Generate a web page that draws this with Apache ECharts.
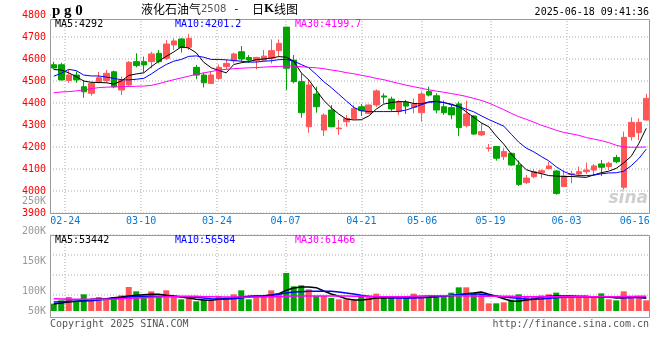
<!DOCTYPE html>
<html><head><meta charset="utf-8">
<script src="https://cdn.jsdelivr.net/npm/echarts@6/dist/echarts.min.js"></script>
<style>html,body{margin:0;padding:0;background:#fff}#c{width:660px;height:360px}</style>
</head><body><div id="c"></div>
<script>
const dates = ['02-20','02-21','02-24','02-25','02-26','02-27','02-28',
'03-03','03-04','03-05','03-06','03-07','03-10','03-11','03-12','03-13','03-14',
'03-17','03-18','03-19','03-20','03-21','03-24','03-25','03-26','03-27','03-28','03-31',
'04-01','04-02','04-03','04-07','04-08','04-09','04-10','04-11','04-14','04-15','04-16','04-17','04-18',
'04-21','04-22','04-23','04-24','04-25','04-28','04-29','04-30',
'05-06','05-07','05-08','05-09','05-12','05-13','05-14','05-15','05-16',
'05-19','05-20','05-21','05-22','05-23','05-26','05-27','05-28','05-29','05-30',
'06-03','06-04','06-05','06-06','06-09','06-10','06-11','06-12','06-13','06-16','06-17','06-18'];
const opens  = [4574,4574,4502,4527,4474,4444,4497,4502,4542,4459,4482,4588,4588,4588,4626,4603,4664,4691,4653,4562,
4527,4489,4512,4565,4592,4633,4607,4592,4595,4603,4638,4745,4595,4497,4292,4441,4277,4368,4283,4315,
4329,4383,4353,4391,4432,4418,4361,4403,4380,4356,4452,4433,4383,4379,4396,4297,4341,4255,4193,4202,
4156,4171,4118,4038,4065,4083,4102,4091,4020,4075,4077,4088,4095,4123,4111,4152,4017,4247,4265,4323];
const closes = [4559,4505,4527,4505,4451,4489,4515,4535,4474,4505,4585,4570,4573,4623,4588,4668,4682,4652,4694,4527,
4492,4527,4562,4580,4623,4600,4595,4607,4613,4638,4671,4558,4497,4356,4482,4383,4345,4292,4286,4330,
4374,4365,4391,4455,4427,4373,4406,4386,4396,4441,4436,4368,4356,4346,4288,4350,4259,4270,4196,4149,
4179,4118,4030,4059,4088,4092,4114,3989,4068,4078,4088,4095,4114,4108,4126,4133,4244,4312,4312,4421];
const lows   = [4553,4502,4492,4492,4424,4433,4489,4492,4467,4436,4477,4562,4538,4558,4580,4595,4641,4629,4641,4508,
4471,4489,4505,4553,4580,4588,4583,4553,4590,4580,4611,4459,4489,4333,4265,4356,4250,4290,4255,4292,
4326,4341,4350,4383,4399,4361,4345,4350,4353,4315,4430,4353,4346,4326,4250,4289,4255,4250,4179,4138,
4141,4115,4023,4032,4058,4058,4098,3983,4020,4035,4065,4077,4068,4068,4095,4126,4008,4229,4232,4320];
const highs  = [4588,4583,4550,4543,4505,4497,4541,4550,4547,4520,4591,4626,4611,4633,4641,4686,4694,4695,4714,4573,
4538,4543,4575,4598,4629,4659,4618,4610,4641,4689,4689,4745,4618,4535,4508,4474,4353,4391,4323,4345,
4391,4396,4392,4462,4444,4429,4414,4414,4421,4452,4474,4444,4411,4396,4406,4411,4345,4308,4214,4205,
4194,4174,4138,4073,4098,4098,4133,4095,4095,4092,4111,4129,4123,4141,4133,4164,4270,4335,4330,4441];
const ma5  = [4552,4550,4537,4520,4500,4494,4493,4492,4486,4500,4525,4532,4537,4565,4590,4612,4632,4655,4650,4628,
4585,4560,4548,4537,4575,4583,4588,4597,4600,4604,4611,4608,4590,4537,4505,4458,4412,4378,4350,4327,
4323,4324,4341,4372,4395,4402,4406,4406,4398,4396,4405,4408,4402,4395,4384,4360,4335,4310,4292,4250,
4213,4168,4130,4097,4086,4079,4070,4068,4066,4066,4064,4062,4073,4083,4090,4103,4128,4158,4215,4285];
const ma10 = [4522,4535,4553,4547,4527,4523,4523,4518,4512,4506,4505,4508,4512,4532,4555,4575,4590,4598,4612,4614,
4608,4598,4598,4596,4593,4590,4586,4586,4590,4592,4597,4598,4590,4575,4560,4530,4497,4470,4440,4410,
4380,4365,4361,4361,4361,4361,4362,4368,4380,4392,4403,4406,4402,4392,4383,4372,4360,4342,4325,4310,
4295,4258,4222,4195,4178,4157,4137,4110,4088,4075,4070,4070,4072,4078,4082,4083,4090,4115,4147,4190];
const ma30 = [4447,4450,4452,4455,4460,4465,4470,4472,4473,4474,4475,4476,4477,4480,4488,4497,4506,4514,4522,4530,
4537,4543,4550,4553,4556,4558,4560,4561,4563,4565,4566,4568,4568,4565,4562,4560,4556,4550,4545,4538,
4533,4526,4520,4512,4506,4497,4489,4481,4474,4467,4460,4454,4449,4443,4437,4430,4421,4412,4400,4385,
4370,4353,4338,4326,4313,4299,4288,4276,4266,4260,4253,4243,4236,4229,4220,4208,4200,4199,4199,4200];
const volumes = [30800,44800,58800,40600,70000,49000,58800,49000,58800,65800,
100800,82600,63000,82600,63000,86800,63000,49000,63000,40600,
49000,44800,63000,58800,70000,86800,49000,61600,61600,86800,
72800,159600,103600,107800,91000,63000,63000,54600,49000,49000,
44800,58800,58800,72800,54600,58800,58800,58800,72800,58800,
58800,61600,61600,77000,99400,99400,77000,72800,32200,32200,
36400,47600,70000,58800,58800,65800,70000,77000,58800,58800,
63000,63000,54600,74200,49000,44800,82600,58800,58800,44800];
const volMa5 = [29400,33600,37800,40600,43400,49000,50400,51800,56000,58800,63000,65800,68600,70000,70000,65800,63000,58800,54600,49000,
46200,44800,49000,51800,54600,58800,61600,63000,64400,67200,72800,86800,96600,100800,100800,98000,84000,71400,61600,51800,
46200,46200,49000,54600,54600,56000,57400,56000,57400,57400,58800,61600,63000,64400,67200,72800,75600,79800,70000,61600,
51800,42000,40600,46200,49000,58800,61600,63000,63000,63000,61600,61600,58800,58800,58800,54600,56000,58800,57400,53442];
const volMa10 = [37800,39200,40600,40600,42000,43400,46200,49000,51800,56000,58800,61600,61600,61600,61600,61600,61600,60200,58800,57400,
54600,51800,50400,50400,51800,54600,60200,61600,63000,65800,70000,75600,79800,81200,82600,82600,82600,82600,79800,75600,
71400,65800,61600,58800,57400,56000,54600,54600,54600,56000,57400,58800,63000,65800,68600,71400,72800,70000,65800,63000,
58800,56000,53200,50400,49000,50400,53200,56000,57400,58800,58800,58800,58800,58800,58800,57400,56000,56000,57400,56584];
const volMa30 = [51800,50400,49000,49000,49000,49000,49000,49000,49000,51800,53200,54600,56000,57400,58800,60200,60200,61600,61600,61600,
60200,60200,58800,58800,58800,58800,57400,58800,58800,60200,60200,61600,63000,63000,63000,63000,63000,63000,63000,63000,
61600,61600,61600,60200,60200,60200,60200,60200,61600,63000,64400,64400,64400,64400,63700,63000,63000,62300,61600,61600,
61600,61600,61000,60200,60200,60200,60200,60200,60200,60200,60200,60200,60200,60200,60200,60200,60900,61200,61500,61466];

const labelDates = ['02-24','03-10','03-24','04-07','04-21','05-06','05-19','06-03','06-16'];
const gridDates  = ['02-24','03-10','03-24','04-07','04-21','05-06','05-19','06-03'];
const priceMin = 3900, priceMax = 4800, priceStep = 100;
const volLabelMax = 250000, volLabelStep = 50000;
const priceMaTexts = ['MA5:4292','MA10:4201.2','MA30:4199.7'];
const volMaTexts = ['MA5:53442','MA10:56584','MA30:61466'];

const UP = '#ff5757', DOWN = '#00a300';
const MONO = '"DejaVu Sans Mono", monospace';
const GRIDLINE = {color: '#d4d4d4', width: 2, type: [1, 2]};

const kData = dates.map((d, i) => [opens[i], closes[i], lows[i], highs[i]]);

const chart = echarts.init(document.getElementById('c'), null, {renderer: 'canvas'});
const markAxis = gi => ({type: 'category', gridIndex: gi, position: 'bottom', data: dates, boundaryGap: true,
  axisLine: {show: false}, axisTick: {show: false}, axisLabel: {show: false}, splitLine: {show: false}});
const scaleAxis = (gi, withLabels) => ({type: 'category', gridIndex: gi, position: 'bottom', data: dates, boundaryGap: false,
  axisLine: {show: false}, axisTick: {show: false},
  axisLabel: withLabels ? {show: true, margin: 3, color: '#0a78d0', fontFamily: MONO, fontSize: 10,
    interval: (idx, val) => labelDates.includes(val)} : {show: false},
  splitLine: {show: true, interval: (idx, val) => gridDates.includes(val), lineStyle: GRIDLINE}});

chart.setOption({
  animation: false,
  backgroundColor: '#fff',
  grid: [
    {left: 50, width: 600, top: 15, height: 198},
    {left: 50, width: 600, top: 235, height: 80},
    {left: 50, width: 600, top: 201, height: 150}
  ],
  xAxis: [markAxis(0), scaleAxis(0, true), markAxis(1), scaleAxis(1, false),
          Object.assign(markAxis(2), {show: false})],
  yAxis: [
    {type: 'value', gridIndex: 0, min: priceMin, max: priceMax, interval: priceStep,
      axisLine: {show: false}, axisTick: {show: false},
      axisLabel: {color: '#ff0000', fontFamily: MONO, fontSize: 10, margin: 4, formatter: v => String(v)},
      splitLine: {show: true, lineStyle: GRIDLINE}},
    {type: 'value', gridIndex: 1, min: -16800, max: 319200, axisLine: {show: false}, axisTick: {show: false},
      axisLabel: {show: false}, splitLine: {show: false}},
    {type: 'value', gridIndex: 1, min: 0, max: 80, interval: 20,
      axisLine: {show: false}, axisTick: {show: false}, axisLabel: {show: false},
      splitLine: {show: true, lineStyle: GRIDLINE}},
    {type: 'value', gridIndex: 2, min: 0, max: volLabelMax, interval: volLabelStep,
      axisLine: {show: false}, axisTick: {show: false}, splitLine: {show: false},
      axisLabel: {showMinLabel: false, color: '#999', fontFamily: MONO, fontSize: 10, margin: 4,
        formatter: v => v === volLabelStep ? '{lift|' + (v / 1000) + 'K}' : (v / 1000) + 'K',
        rich: {lift: {color: '#999', fontFamily: MONO, fontSize: 10, padding: [0, 0, 20, 0]}}}}
  ],
  series: [
    {type: 'candlestick', xAxisIndex: 0, yAxisIndex: 0, data: kData, barWidth: 6,
      itemStyle: {color: UP, color0: DOWN, borderColor: UP, borderColor0: DOWN, borderWidth: 1}},
    {type: 'line', xAxisIndex: 0, yAxisIndex: 0, data: ma5, showSymbol: false, z: 3, lineStyle: {color: '#000', width: 1}},
    {type: 'line', xAxisIndex: 0, yAxisIndex: 0, data: ma10, showSymbol: false, z: 3, lineStyle: {color: '#0000ff', width: 1}},
    {type: 'line', xAxisIndex: 0, yAxisIndex: 0, data: ma30, showSymbol: false, z: 3, lineStyle: {color: '#ff00ff', width: 1}},
    {type: 'bar', xAxisIndex: 2, yAxisIndex: 1, data: volumes, barWidth: 6,
      itemStyle: {color: p => closes[p.dataIndex] >= opens[p.dataIndex] ? UP : DOWN}},
    {type: 'line', xAxisIndex: 2, yAxisIndex: 1, data: volMa5, showSymbol: false, z: 3, lineStyle: {color: '#000', width: 1.5}},
    {type: 'line', xAxisIndex: 2, yAxisIndex: 1, data: volMa10, showSymbol: false, z: 3, lineStyle: {color: '#0000ff', width: 1.5}},
    {type: 'line', xAxisIndex: 2, yAxisIndex: 1, data: volMa30, showSymbol: false, z: 3, lineStyle: {color: '#ff00ff', width: 1.5}}
  ],
  graphic: [
    {type: 'rect', z: 50, shape: {x: 51, y: 10, width: 598, height: 9}, style: {fill: '#fff'}},
    {type: 'rect', z: 50, shape: {x: 51, y: 312.5, width: 598, height: 4.5}, style: {fill: '#fff'}},
    {type: 'rect', z: 60, shape: {x: 50.5, y: 19.5, width: 599, height: 194}, style: {fill: null, stroke: '#999', lineWidth: 1}},
    {type: 'rect', z: 60, shape: {x: 50.5, y: 235.5, width: 599, height: 82}, style: {fill: null, stroke: '#999', lineWidth: 1}},
    {type: 'text', z: 70, style: {x: 52, y: 11, text: 'p g 0', font: 'bold 15px "Liberation Serif"', fill: '#000', verticalAlign: 'middle'}},
    {type: 'text', z: 70, style: {x: 141, y: 9, verticalAlign: 'middle', text: '{a|液化石油气}{b|2508}',
      rich: {a: {font: '12px "Noto Sans CJK SC"', fill: '#000'}, b: {font: '10px "DejaVu Sans"', fill: '#555'}}}},
    {type: 'text', z: 70, style: {x: 233, y: 9, verticalAlign: 'middle', text: '-', font: '11px "DejaVu Sans Mono"', fill: '#000'}},
    {type: 'text', z: 70, style: {x: 252, y: 9, verticalAlign: 'middle', text: '{a|日}{k|K}{a|线图}',
      rich: {a: {font: '12px "Noto Sans CJK SC"', fill: '#000'}, k: {font: 'bold 13px "Liberation Serif"', fill: '#000'}}}},
    {type: 'text', z: 70, style: {x: 649, y: 12, align: 'right', verticalAlign: 'middle', text: '2025-06-18 09:41:36', font: '10px ' + MONO, fill: '#000'}},
    {type: 'text', z: 70, style: {x: 55, y: 24, verticalAlign: 'middle', text: priceMaTexts[0], font: '10px ' + MONO, fill: '#000'}},
    {type: 'text', z: 70, style: {x: 175, y: 24, verticalAlign: 'middle', text: priceMaTexts[1], font: '10px ' + MONO, fill: '#0000ff'}},
    {type: 'text', z: 70, style: {x: 295, y: 24, verticalAlign: 'middle', text: priceMaTexts[2], font: '10px ' + MONO, fill: '#ff00ff'}},
    {type: 'text', z: 70, style: {x: 55, y: 240, verticalAlign: 'middle', text: volMaTexts[0], font: '10px ' + MONO, fill: '#000'}},
    {type: 'text', z: 70, style: {x: 175, y: 240, verticalAlign: 'middle', text: volMaTexts[1], font: '10px ' + MONO, fill: '#0000ff'}},
    {type: 'text', z: 70, style: {x: 295, y: 240, verticalAlign: 'middle', text: volMaTexts[2], font: '10px ' + MONO, fill: '#ff00ff'}},
    {type: 'text', z: 70, style: {x: 50, y: 324, verticalAlign: 'middle', text: 'Copyright 2025 SINA.COM', font: '10px ' + MONO, fill: '#555'}},
    {type: 'text', z: 70, style: {x: 649, y: 324, align: 'right', verticalAlign: 'middle', text: 'http://finance.sina.com.cn', font: '10px ' + MONO, fill: '#555'}},
    {type: 'text', z: 40, style: {x: 648, y: 199, align: 'right', verticalAlign: 'middle', text: 'sina', font: 'italic bold 17px "DejaVu Sans"', fill: '#cfcfcf'}}
  ]
});
</script></body></html>
